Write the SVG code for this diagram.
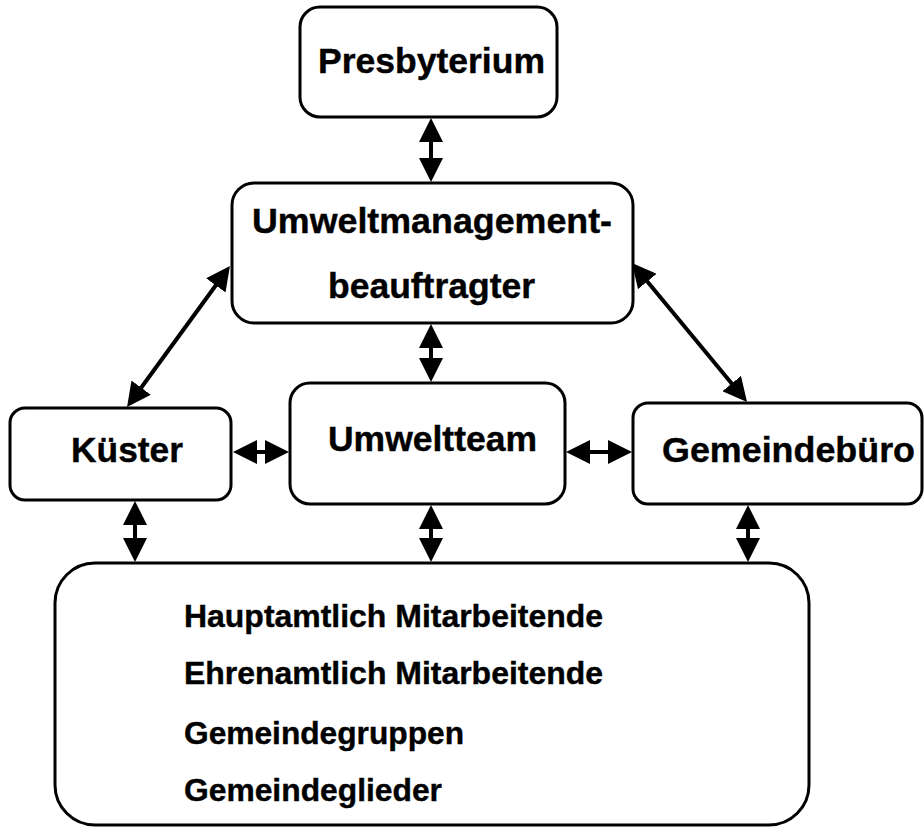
<svg xmlns="http://www.w3.org/2000/svg" width="924" height="827" viewBox="0 0 924 827">
<defs>
<style>
.box{fill:#fff;stroke:#000;stroke-width:3}
.t{font-family:"Liberation Sans",Arial,sans-serif;font-weight:bold;fill:#000;stroke:#000;stroke-width:0.4}
.big{font-size:35px}
.list{font-size:31px}
.c{stroke:#000;stroke-width:4;fill:none;marker-start:url(#ah);marker-end:url(#ah)}
</style>
<marker id="ah" markerUnits="userSpaceOnUse" markerWidth="24" markerHeight="24" refX="10" refY="12" orient="auto-start-reverse" viewBox="0 0 24 24">
<path d="M0,0 L24,12 L0,24 z" fill="#000"/>
</marker>
</defs>
<rect width="924" height="827" fill="#fff"/>
<g id="connectors">
<line class="c" x1="431" y1="132" x2="431" y2="168"/>
<line class="c" x1="431" y1="338" x2="431" y2="368"/>
<line class="c" x1="221.7" y1="277.3" x2="135.3" y2="395.7"/>
<line class="c" x1="640.9" y1="273.8" x2="738.1" y2="391.2"/>
<line class="c" x1="247" y1="452" x2="275" y2="452"/>
<line class="c" x1="580" y1="452" x2="618" y2="452"/>
<line class="c" x1="135" y1="515" x2="135" y2="548"/>
<line class="c" x1="431" y1="519" x2="431" y2="548"/>
<line class="c" x1="748" y1="519" x2="748" y2="548"/>
</g>
<g id="presbyterium">
<rect class="box" x="300" y="7" width="257" height="110" rx="20"/>
<text class="t big" x="318" y="73" textLength="227" lengthAdjust="spacingAndGlyphs">Presbyterium</text>
</g>
<g id="umweltmanagementbeauftragter">
<rect class="box" x="232" y="183" width="401" height="140" rx="22"/>
<text class="t big" x="252" y="233" textLength="360" lengthAdjust="spacingAndGlyphs">Umweltmanagement-</text>
<text class="t big" x="328" y="298" textLength="207" lengthAdjust="spacingAndGlyphs">beauftragter</text>
</g>
<g id="kuester">
<rect class="box" x="10" y="408" width="221" height="92" rx="15"/>
<text class="t big" x="71" y="462" textLength="112" lengthAdjust="spacingAndGlyphs">Küster</text>
</g>
<g id="umweltteam">
<rect class="box" x="290" y="383" width="275" height="121" rx="20"/>
<text class="t big" x="328" y="451" textLength="209" lengthAdjust="spacingAndGlyphs">Umweltteam</text>
</g>
<g id="gemeindebuero">
<rect class="box" x="633" y="403" width="289" height="101" rx="15"/>
<text class="t big" x="662" y="462" textLength="253" lengthAdjust="spacingAndGlyphs">Gemeindebüro</text>
</g>
<g id="gemeinde">
<rect class="box" x="55" y="563" width="754" height="262" rx="40"/>
<text class="t list" x="184" y="627" textLength="419" lengthAdjust="spacingAndGlyphs">Hauptamtlich Mitarbeitende</text>
<text class="t list" x="184" y="684" textLength="419" lengthAdjust="spacingAndGlyphs">Ehrenamtlich Mitarbeitende</text>
<text class="t list" x="184" y="744" textLength="280" lengthAdjust="spacingAndGlyphs">Gemeindegruppen</text>
<text class="t list" x="184" y="801" textLength="258" lengthAdjust="spacingAndGlyphs">Gemeindeglieder</text>
</g>
</svg>
